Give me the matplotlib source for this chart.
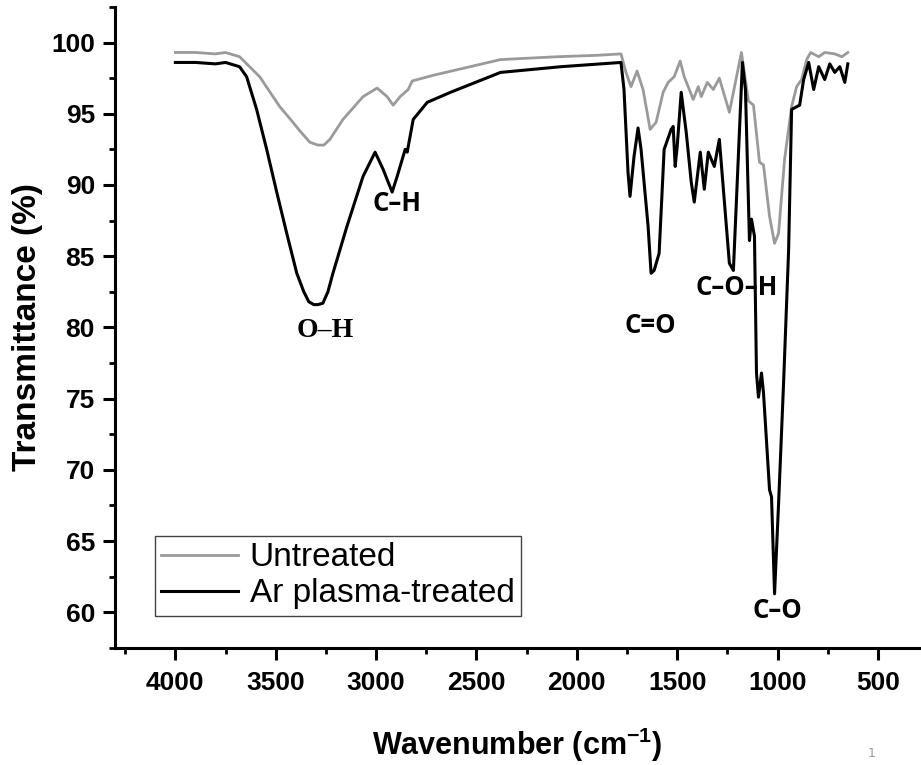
import matplotlib
matplotlib.use("Agg")
import matplotlib.pyplot as plt
from matplotlib.ticker import MultipleLocator

plt.rcParams["mathtext.fontset"] = "custom"
plt.rcParams["mathtext.rm"] = "Liberation Sans"
plt.rcParams["mathtext.bf"] = "Liberation Sans:bold"

# Untreated (gray) spectrum
untreated_wn = [4000, 3900, 3800, 3750, 3680, 3580, 3480, 3420, 3380, 3330, 3290, 3260, 3230,
                3165, 3065, 2995, 2945, 2915, 2880, 2840, 2820, 2715, 2380, 2100, 1900, 1780,
                1755, 1730, 1700, 1670, 1635, 1605, 1570, 1545, 1515, 1485, 1465,
                1420, 1395, 1380, 1350, 1320, 1290, 1240, 1180, 1145, 1120, 1090,
                1070, 1040, 1015, 995, 965, 930, 905, 880, 855, 835, 795, 765, 715, 680, 650]
untreated_t = [99.3, 99.3, 99.2, 99.3, 99.0, 97.6, 95.5, 94.5, 93.8, 93.0, 92.8, 92.8, 93.2,
               94.6, 96.2, 96.8, 96.2, 95.6, 96.2, 96.7, 97.3, 97.7, 98.8, 99.0, 99.1, 99.2,
               97.9, 96.9, 98.0, 96.7, 93.9, 94.4, 96.5, 97.2, 97.6, 98.7, 97.6,
               96.0, 96.9, 96.2, 97.2, 96.7, 97.5, 95.1, 99.3, 95.9, 95.6, 91.6,
               91.4, 87.8, 85.9, 86.6, 91.8, 95.5, 96.9, 97.4, 98.8, 99.3, 99.0, 99.3, 99.2, 99.0, 99.3]

# Ar plasma-treated (black) spectrum
treated_wn = [4000, 3900, 3800, 3750, 3680, 3645, 3595, 3545, 3495, 3445, 3395, 3360, 3335,
              3310, 3290, 3265, 3240, 3215, 3145, 3065, 3005, 2965, 2920, 2895, 2855, 2845, 2815,
              2745, 2630, 2380, 2230, 2080, 1880, 1780, 1765, 1745, 1735, 1715, 1695,
              1680, 1645, 1630, 1615, 1590, 1565, 1530, 1520, 1510, 1500, 1480, 1455,
              1430, 1415, 1385, 1365, 1345, 1315, 1290, 1240, 1220, 1175, 1160, 1140,
              1130, 1115, 1105, 1095, 1080, 1070, 1040, 1030, 1015, 995, 970, 945,
              930, 890, 870, 845, 820, 795, 765, 740, 715, 690, 665, 650]
treated_t = [98.6, 98.6, 98.5, 98.6, 98.3, 97.6, 95.3, 92.5, 89.5, 86.6, 83.8, 82.5, 81.8,
             81.6, 81.6, 81.7, 82.5, 83.8, 87.1, 90.6, 92.3, 91.1, 89.5, 90.6, 92.5, 92.3, 94.6,
             95.8, 96.5, 97.9, 98.1, 98.3, 98.5, 98.6, 96.7, 90.9, 89.2, 92.0, 94.0,
             92.5, 87.1, 83.8, 84.0, 85.2, 92.5, 93.9, 94.1, 91.3, 92.7, 96.5, 93.7,
             90.2, 88.8, 92.3, 89.7, 92.3, 91.3, 93.2, 84.5, 84.0, 98.6, 96.7, 86.1,
             87.6, 86.4, 76.8, 75.1, 76.8, 75.4, 68.6, 68.1, 61.3, 67.6, 76.1, 85.4,
             95.3, 95.6, 97.4, 98.6, 96.7, 98.3, 97.4, 98.5, 97.9, 98.3, 97.2, 98.5]

# peak labels
peak_labels = ["O\u2013H", "C\u2013H", "C=O", "C\u2013O\u2013H", "C\u2013O"]
peak_wn = [3255, 2895, 1635, 1205, 1000]
peak_t = [79.8, 88.7, 80.1, 82.8, 60.1]

sans = ["Liberation Sans", "DejaVu Sans"]

fig = plt.figure(figsize=(9.21, 7.65), dpi=100)
ax = fig.add_axes([0.125, 0.153, 0.874, 0.838])

ax.plot(untreated_wn, untreated_t, color="#9a9a9a", lw=2.0, label="Untreated")
ax.plot(treated_wn, treated_t, color="black", lw=2.2, label="Ar plasma-treated")

for lab, w, t in zip(peak_labels, peak_wn, peak_t):
    if lab == "O\u2013H":
        ax.text(w, t, lab, ha="center", va="center", fontsize=20,
                fontweight="bold", family="Liberation Serif")
    else:
        ax.text(w, t, lab, ha="center", va="center", fontsize=18.5,
                fontweight="bold", family=["Open Sans", "DejaVu Sans"])

ax.set_xlim(4300, 290)
ax.set_ylim(57.5, 102.5)
ax.xaxis.set_major_locator(MultipleLocator(500))
ax.xaxis.set_minor_locator(MultipleLocator(250))
ax.yaxis.set_major_locator(MultipleLocator(5))
ax.yaxis.set_minor_locator(MultipleLocator(2.5))

ax.spines["top"].set_visible(False)
ax.spines["right"].set_visible(False)
ax.spines["left"].set_linewidth(2.2)
ax.spines["bottom"].set_linewidth(2.2)
ax.tick_params(which="major", direction="out", length=8.5, width=2.2)
ax.tick_params(which="minor", direction="out", length=4, width=2.0)
ax.tick_params(axis="x", which="major", pad=8)
ax.tick_params(axis="y", which="major", pad=6)

for lbl in ax.get_xticklabels():
    lbl.set_family(sans)
    lbl.set_fontweight("bold")
    lbl.set_fontsize(19)
for lbl in ax.get_yticklabels():
    lbl.set_family(sans)
    lbl.set_fontweight("bold")
    lbl.set_fontsize(19)

ax.set_xlabel("Wavenumber (cm$^{\\mathbf{-1}}$)", fontsize=22, fontweight="bold",
              family=sans)
ax.xaxis.set_label_coords(0.5, -0.122)
ax.set_ylabel("Transmittance (%)", fontsize=24, fontweight="bold", family=sans)
ax.yaxis.set_label_coords(-0.09, 0.5)

leg = ax.legend(loc="lower left", bbox_to_anchor=(0.049, 0.05), borderaxespad=0,
                fancybox=False, edgecolor="#444444", framealpha=1, handlelength=2.3,
                prop={"family": "Liberation Sans", "size": 24}, labelspacing=0.15,
                borderpad=0.2, handletextpad=0.35)
leg.get_frame().set_linewidth(1.0)

fig.text(0.942, 0.01, "1", fontsize=9, color="#999999")

fig.savefig("out.png", dpi=100)
